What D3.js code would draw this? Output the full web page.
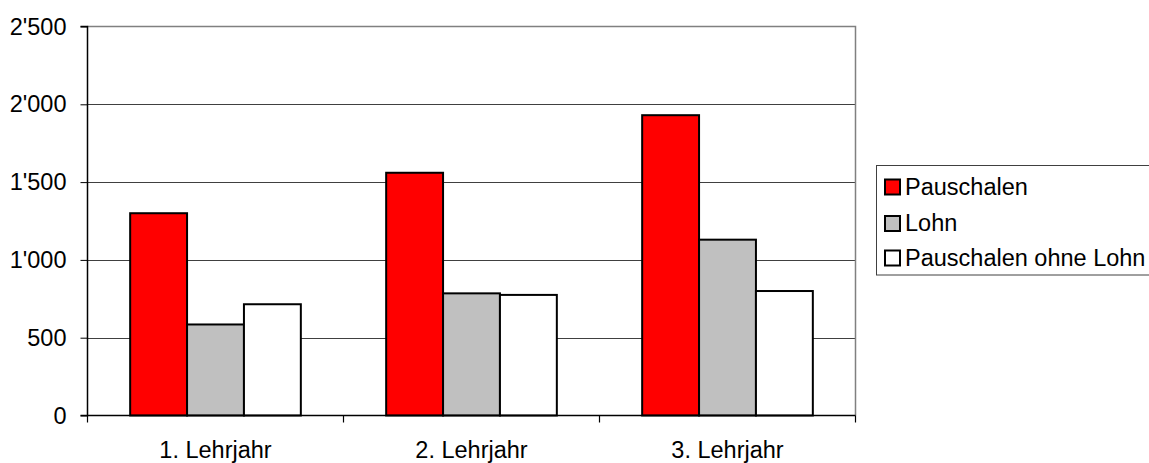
<!DOCTYPE html>
<html>
<head>
<meta charset="utf-8">
<script src="https://cdn.jsdelivr.net/npm/d3@7"></script>
<style>
  html, body { margin: 0; padding: 0; background: #fff; }
  svg { display: block; font-family: "Liberation Sans", Arial, sans-serif; }
</style>
</head>
<body>
<svg id="chart" width="1149" height="463"></svg>
<script>
// Categories and series values
const categories = ["1. Lehrjahr", "2. Lehrjahr", "3. Lehrjahr"];
const seriesNames = ["Pauschalen", "Lohn", "Pauschalen ohne Lohn"];
const pauschalen = [1300, 1560, 1930];
const lohn = [585, 785, 1130];
const ohneLohn = [715, 775, 800];
const yTicks = [0, 500, 1000, 1500, 2000, 2500];
const yTickLabels = ["0", "500", "1'000", "1'500", "2'000", "2'500"];

const seriesValues = [pauschalen, lohn, ohneLohn];
const colors = ["#ff0000", "#c0c0c0", "#ffffff"];
const fontSize = 23.5;

const svg = d3.select("#chart");
const plotL = 87.5, plotR = 855.5, plotT = 26.5, plotB = 415.5;

const x = d3.scaleBand().domain(categories).range([plotL, plotR]).paddingInner(0).paddingOuter(0);
const y = d3.scaleLinear().domain([0, 2500]).range([plotB, plotT]);

// bar layout inside each category: gap width 150%
const barW = x.bandwidth() / 4.5;
const gapW = barW * 0.75;
const xs = d3.scaleBand().domain(d3.range(seriesNames.length))
  .range([gapW, x.bandwidth() - gapW]).padding(0);

// gridlines
svg.append("g").selectAll("line").data(yTicks.filter(d => d > 0 && d < 2500))
  .join("line")
  .attr("x1", plotL).attr("x2", plotR)
  .attr("y1", d => Math.round(y(d)) + 0.5).attr("y2", d => Math.round(y(d)) + 0.5)
  .attr("stroke", "#404040").attr("stroke-width", 1);

// plot-area border (top and right)
svg.append("path")
  .attr("d", `M${plotL},${plotT}H${plotR}V${plotB}`)
  .attr("fill", "none").attr("stroke", "#808080").attr("stroke-width", 1.5);

// bars
const rows = [];
categories.forEach((c, i) => seriesValues.forEach((vals, s) => rows.push({ c, s, v: vals[i] })));
svg.append("g").selectAll("rect").data(rows).join("rect")
  .attr("x", d => x(d.c) + xs(d.s))
  .attr("y", d => y(d.v))
  .attr("width", xs.bandwidth())
  .attr("height", d => y(0) - y(d.v))
  .attr("fill", d => colors[d.s])
  .attr("stroke", "#000").attr("stroke-width", 2);

// y axis
const yAxis = d3.axisLeft(y).tickValues(yTicks)
  .tickFormat((d, i) => yTickLabels[i]).tickSize(7).tickPadding(14);
const gy = svg.append("g").attr("transform", `translate(${plotL},0)`).call(yAxis);
gy.select(".domain").attr("stroke", "#000").attr("stroke-width", 1.5).attr("d", `M-7,${plotT}H0V${plotB}H-7`);
gy.selectAll(".tick line").attr("stroke", "#000");
gy.selectAll(".tick text").attr("font-size", fontSize).attr("fill", "#000")
  .attr("font-family", "'Liberation Sans', Arial, sans-serif");

// x axis: ticks on category boundaries
const gx = svg.append("g").attr("transform", `translate(0,${plotB})`);
gx.append("line").attr("x1", plotL).attr("x2", plotR).attr("y1", 0).attr("y2", 0)
  .attr("stroke", "#000").attr("stroke-width", 1.5);
const bounds = categories.map(c => x(c)).concat([x(categories[categories.length - 1]) + x.bandwidth()]);
gx.selectAll("line.tk").data(bounds).join("line").attr("class", "tk")
  .attr("x1", d => d).attr("x2", d => d).attr("y1", 0).attr("y2", 7)
  .attr("stroke", "#000").attr("stroke-width", 1.2);
gx.selectAll("text").data(categories).join("text")
  .attr("x", d => x(d) + x.bandwidth() / 2).attr("y", 42)
  .attr("text-anchor", "middle").attr("font-size", fontSize).attr("fill", "#000")
  .text(d => d);

// legend
const lg = svg.append("g");
lg.append("rect").attr("x", 876.5).attr("y", 165.5).attr("width", 300).attr("height", 109.5)
  .attr("fill", "#fff").attr("stroke", "#404040").attr("stroke-width", 1);
const ly = [187, 223.5, 258];
seriesNames.forEach((n, i) => {
  lg.append("rect").attr("x", 885).attr("y", ly[i] - 7.5).attr("width", 15).attr("height", 15)
    .attr("fill", colors[i]).attr("stroke", "#000").attr("stroke-width", 2);
  lg.append("text").attr("x", 905).attr("y", ly[i]).attr("dy", "0.33em")
    .attr("font-size", fontSize).attr("fill", "#000").text(n);
});
</script>
</body>
</html>
